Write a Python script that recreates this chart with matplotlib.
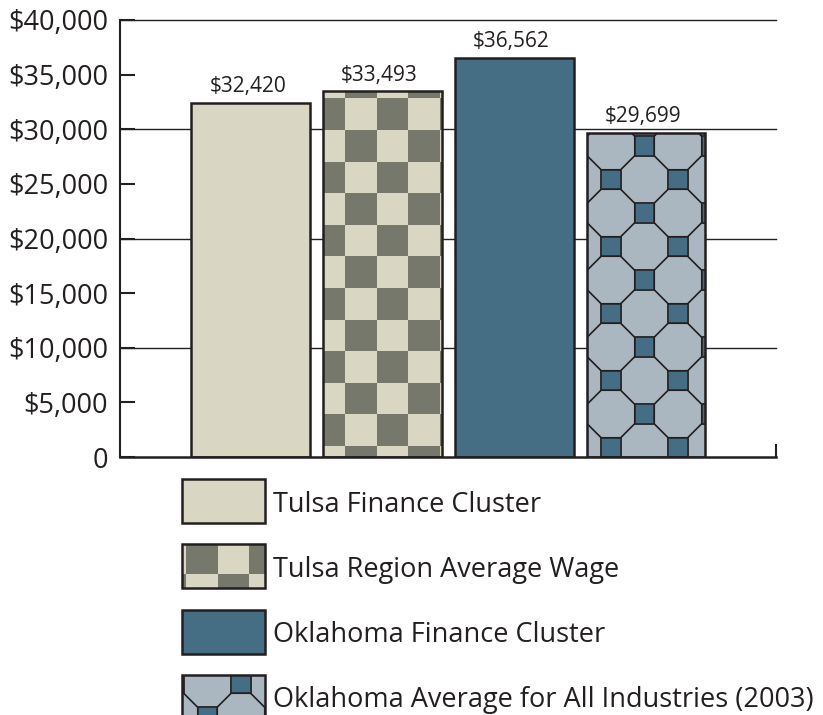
import numpy as np
import matplotlib.pyplot as plt
from matplotlib.patches import Rectangle, Polygon
from matplotlib.transforms import IdentityTransform

# Data
categories = ["Tulsa Finance Cluster", "Tulsa Region Average Wage",
              "Oklahoma Finance Cluster", "Oklahoma Average for All Industries (2003)"]
wages = [32420, 33493, 36562, 29699]
yticks = list(range(0, 40001, 5000))
ytick_labels = ["0"] + ["${:,}".format(v) for v in yticks[1:]]
grid_levels = [10000, 20000, 30000, 40000]

# Colours
BEIGE = "#D9D6C3"
OLIVE = "#75786A"
TEAL = "#456E84"
STEEL = "#AAB7C1"
INK = "#231F20"
fills = [BEIGE, BEIGE, TEAL, STEEL]
patterns = [None, "checker", None, "octagon"]

plt.rcParams['font.family'] = ['Open Sans', 'DejaVu Sans']

fig = plt.figure(figsize=(8.23, 7.15), dpi=100)
W, H = 823, 715
ax = fig.add_axes([120 / W, 258 / H, (776 - 120) / W, 437 / H])

x = np.arange(len(wages))
ax.set_xlim(-0.99, 3.986)
ax.set_ylim(0, 40000)


def clip_to(artist, shape):
    # clip to the exact outline of a patch (a plain Rectangle would become a clip box)
    artist.set_clip_path(shape.get_path(), shape.get_transform())


def checker(add, clip, x0, y0, x1, y1, gx, gy, size=31.6, z=2.5):
    # dark squares of a checkerboard, grid anchored at (gx, gy) in pixels
    i0 = int(np.floor((x0 - gx) / size)) - 1
    i1 = int(np.ceil((x1 - gx) / size)) + 1
    j0 = int(np.floor((y0 - gy) / size)) - 1
    j1 = int(np.ceil((y1 - gy) / size)) + 1
    for i in range(i0, i1):
        for j in range(j0, j1):
            if (i + j) % 2 == 0:
                r = Rectangle((gx + i * size, gy + j * size), size, size,
                              facecolor=OLIVE, edgecolor="none",
                              transform=IdentityTransform(), zorder=z)
                clip_to(r, clip)
                add(r)


def octagons(add, clip, x0, y0, x1, y1, cx, cy, step=33.5, side=19.6, z=2.5):
    # truncated square tiling: squares where m+n even, octagons otherwise
    rin = step - side / 2
    R = rin / np.cos(np.pi / 8)
    ang = np.pi / 8 + np.arange(8) * np.pi / 4
    m0 = int(np.floor((x0 - cx) / step)) - 2
    m1 = int(np.ceil((x1 - cx) / step)) + 2
    n0 = int(np.floor((y0 - cy) / step)) - 2
    n1 = int(np.ceil((y1 - cy) / step)) + 2
    squares = []
    for m in range(m0, m1):
        for n in range(n0, n1):
            px, py = cx + m * step, cy + n * step
            if (m + n) % 2:
                p = Polygon(np.c_[px + R * np.cos(ang), py + R * np.sin(ang)],
                            closed=True, facecolor=STEEL, edgecolor=INK,
                            linewidth=1.1, transform=IdentityTransform(), zorder=z)
                clip_to(p, clip)
                add(p)
            else:
                squares.append(Rectangle((px - side / 2, py - side / 2), side, side,
                                         facecolor=TEAL, edgecolor=INK, linewidth=1.1,
                                         transform=IdentityTransform(), zorder=z + 0.1))
    for p in squares:
        clip_to(p, clip)
        add(p)


# gridlines behind bars
for g in grid_levels:
    ax.axhline(g, color=INK, linewidth=1.0, zorder=1, clip_on=False)

bars = ax.bar(x, wages, width=0.9, color=fills, edgecolor="none", zorder=2)

for rect, pat in zip(bars, patterns):
    (px0, py0), (px1, py1) = ax.transData.transform(
        [(rect.get_x(), 0), (rect.get_x() + rect.get_width(), rect.get_height())])
    if pat == "checker":
        checker(ax.add_patch, rect, px0, py0, px1, py1, px0 + 22, py0 - 20.6)
    elif pat == "octagon":
        pcx = (px0 + px1) / 2
        octagons(ax.add_patch, rect, px0, py0, px1, py1, pcx - 1.5, py0 + 43)

ax.bar(x, wages, width=0.9, fill=False, edgecolor=INK, linewidth=1.8, zorder=3)

for xi, v in zip(x, wages):
    ax.annotate("${:,}".format(v), (xi, v), xytext=(-2, 7.5), textcoords="offset points",
                ha="center", va="baseline", fontsize=15, color=INK)

# axes styling
ax.set_yticks(yticks)
ax.set_yticklabels(ytick_labels)
ax.set_xticks([])
ax.tick_params(axis="y", direction="in", length=10.8, width=1.5, color=INK,
               pad=8.6, labelsize=19.5, labelcolor=INK)
ax.spines["top"].set_visible(False)
ax.spines["left"].set_linewidth(1.5)
ax.spines["left"].set_color(INK)
ax.spines["bottom"].set_linewidth(1.8)
ax.spines["bottom"].set_color(INK)
ax.spines["bottom"].set_zorder(4)
ax.spines["right"].set_bounds(0, 1100)
ax.spines["right"].set_linewidth(1.5)
ax.spines["right"].set_color(INK)

# legend drawn by hand below the axes
sw_left, sw_w, sw_h = 182, 83, 44
sw_tops = [236, 171, 105, 40]
for lab, fc, pat, top in zip(categories, fills, patterns, sw_tops):
    bottom = top - sw_h
    base = Rectangle((sw_left, bottom), sw_w, sw_h, facecolor=fc, edgecolor="none",
                     transform=IdentityTransform(), zorder=1)
    fig.add_artist(base)
    if pat == "checker":
        checker(fig.add_artist, base, sw_left, bottom, sw_left + sw_w, top,
                sw_left + 4, bottom + 14.3, z=2)
    elif pat == "octagon":
        octagons(fig.add_artist, base, sw_left, bottom, sw_left + sw_w, top,
                 sw_left + sw_w / 2 + 17.5, top - 8.5, z=2)
    fig.add_artist(Rectangle((sw_left, bottom), sw_w, sw_h, fill=False, edgecolor=INK,
                             linewidth=1.8, transform=IdentityTransform(), zorder=3))
    fig.text(273 / W, (bottom + sw_h / 2) / H, lab, ha="left", va="center_baseline",
             fontsize=19.5, color=INK)

fig.savefig("out.png", dpi=100)
